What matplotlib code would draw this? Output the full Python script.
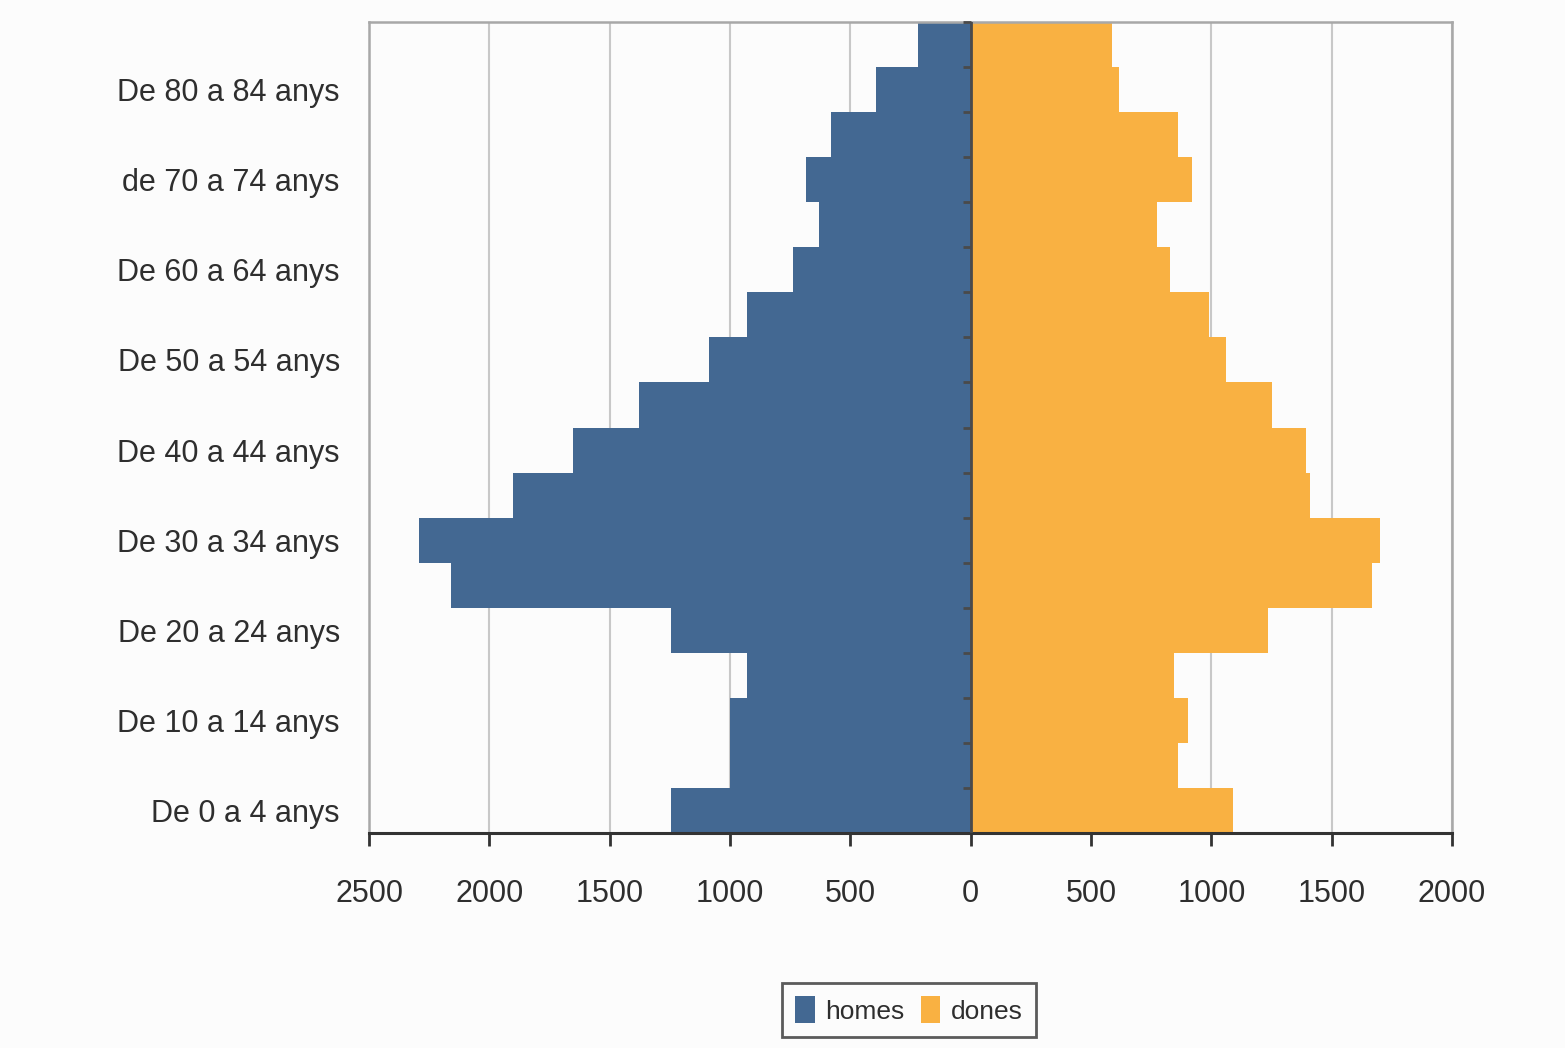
import numpy as np
import matplotlib
matplotlib.use("Agg")
import matplotlib.pyplot as plt
from matplotlib.ticker import FuncFormatter
from matplotlib.patches import Patch

plt.rcParams['font.family'] = ['Liberation Sans', 'DejaVu Sans']

categories = [
    "De 0 a 4 anys", "De 5 a 9 anys", "De 10 a 14 anys", "De 15 a 19 anys",
    "De 20 a 24 anys", "De 25 a 29 anys", "De 30 a 34 anys", "De 35 a 39 anys",
    "De 40 a 44 anys", "De 45 a 49 anys", "De 50 a 54 anys", "De 55 a 59 anys",
    "De 60 a 64 anys", "De 65 a 69 anys", "de 70 a 74 anys", "De 75 a 79 anys",
    "De 80 a 84 anys", "De 85 anys i més",
]
homes = [1246, 999, 999, 930, 1246, 2158, 2292, 1900, 1654, 1379,
         1087, 930, 740, 631, 685, 582, 395, 220]
dones = [1091, 860, 901, 846, 1234, 1669, 1699, 1408, 1395, 1250,
         1062, 989, 827, 773, 918, 860, 615, 586]
xticks = [-2500, -2000, -1500, -1000, -500, 0, 500, 1000, 1500, 2000]

c_homes = '#436892'
c_dones = '#F9B142'
txt = '#2e2e2e'

fig = plt.figure(figsize=(15.65, 10.48), dpi=100)
fig.patch.set_facecolor('#fcfcfc')
ax = fig.add_axes([369/1565, 1-833/1048, (1452-369)/1565, (833-22)/1048])
ax.set_facecolor('#fcfcfc')

y = np.arange(len(categories))
ax.barh(y, -np.array(homes), height=1.0, color=c_homes, zorder=2, label='homes')
ax.barh(y, dones, height=1.0, color=c_dones, zorder=2, label='dones')

ax.set_xlim(-2500, 2000)
ax.set_ylim(-0.5, len(categories) - 0.5)
ax.set_xticks(xticks)
ax.xaxis.set_major_formatter(FuncFormatter(lambda v, p: f"{abs(int(round(v)))}"))
ax.grid(axis='x', color='#c8c8c8', lw=1.5, zorder=0)
ax.set_axisbelow(True)

ax.set_yticks(y[::2])
ax.set_yticklabels(categories[::2])
ax.tick_params(axis='y', length=0, pad=21, labelsize=22, labelcolor=txt)
ax.tick_params(axis='x', direction='out', length=9, width=2, color='#333333',
               pad=24, labelsize=22, labelcolor=txt)

for s in ['left', 'top', 'right']:
    ax.spines[s].set_color('#a8a8a8')
    ax.spines[s].set_linewidth(1.8)
ax.spines['bottom'].set_color('#333333')
ax.spines['bottom'].set_linewidth(2.2)

# central axis with category boundary ticks
ax.axvline(0, color='#4a4a4a', lw=2, zorder=3)
bounds = np.arange(len(categories)) + 0.5
ax.plot(np.zeros(len(bounds)), bounds, linestyle='none', marker=0,
        ms=6, mew=2, color='#4a4a4a', zorder=4, clip_on=False)

handles = [Patch(facecolor=c_homes, label='homes'), Patch(facecolor=c_dones, label='dones')]
leg = fig.legend(handles=handles, loc='upper center', bbox_to_anchor=(909/1565, 1-983/1048),
                 ncol=2, fontsize=19, frameon=True, fancybox=False, borderaxespad=0,
                 handlelength=0.75, handleheight=1.2, handletextpad=0.4, columnspacing=0.6,
                 borderpad=0.5, labelcolor=txt)
leg.get_frame().set_edgecolor('#333333')
leg.get_frame().set_linewidth(2)
leg.get_frame().set_facecolor('#fcfcfc')

fig.savefig('out.png', dpi=100, facecolor=fig.get_facecolor())
